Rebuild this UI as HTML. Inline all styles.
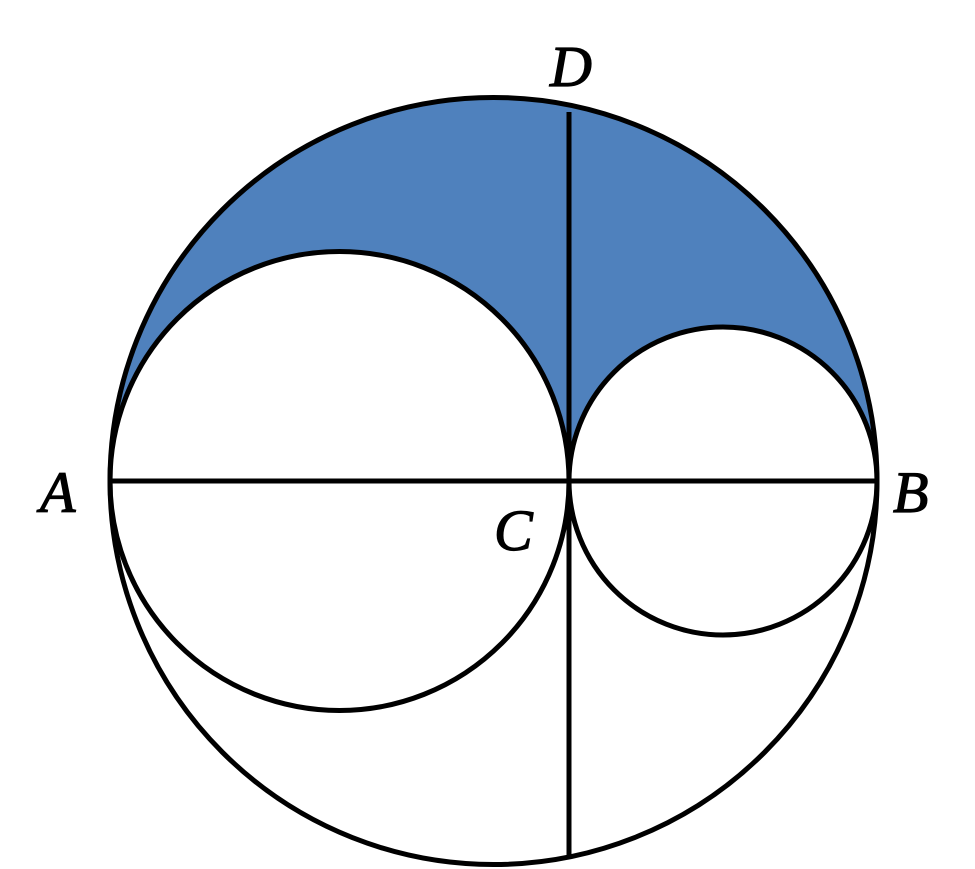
<!DOCTYPE html>
<html><head><meta charset="utf-8"><style>
html,body{margin:0;padding:0;background:#fff;}
svg{display:block;}
text{font-family:"Liberation Serif",serif;font-style:italic;font-size:58px;fill:#000;stroke:#000;stroke-width:1.2;}
</style></head><body>
<svg width="975" height="869" viewBox="0 0 975 869" xmlns="http://www.w3.org/2000/svg">
<path d="M110,481 A383.5,383.5 0 0 1 877,481 A154,154 0 0 0 569,481 A229.5,229.5 0 0 0 110,481 Z" fill="#4f81bd"/>
<g fill="none" stroke="#000" stroke-width="5">
<circle cx="493.5" cy="481" r="383.5"/>
<circle cx="339.5" cy="481" r="229.5"/>
<circle cx="723" cy="481" r="154"/>
<line x1="110" y1="481" x2="877" y2="481"/>
<line x1="569" y1="112" x2="569" y2="857"/>
</g>
<text x="550" y="86">D</text>
<text x="40" y="512">A</text>
<text x="893" y="512">B</text>
<text x="494" y="550">C</text>
</svg>
</body></html>
